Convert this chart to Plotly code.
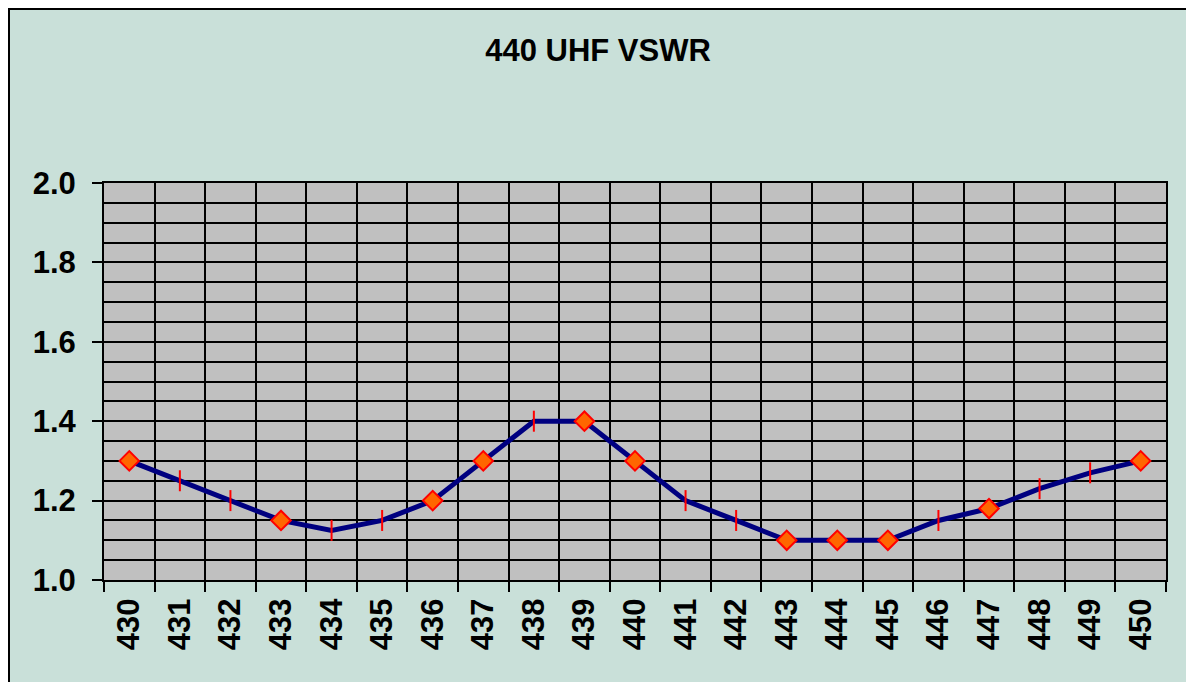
import plotly.graph_objects as go

freqs = ["430", "431", "432", "433", "434", "435", "436", "437", "438", "439", "440",
         "441", "442", "443", "444", "445", "446", "447", "448", "449", "450"]
vswr = [1.30, 1.25, 1.20, 1.15, 1.125, 1.15, 1.20, 1.30, 1.40, 1.40, 1.30,
        1.20, 1.15, 1.10, 1.10, 1.10, 1.15, 1.18, 1.23, 1.27, 1.30]
marker_kind = ["diamond", "line-ns", "line-ns", "diamond", "line-ns", "line-ns", "diamond",
               "diamond", "line-ns", "diamond", "diamond", "line-ns", "line-ns", "diamond",
               "diamond", "diamond", "line-ns", "diamond", "line-ns", "line-ns", "diamond"]
title_text = "440 UHF VSWR"

OFF = 8  # page body margin
W, H = 1194 - OFF, 682 - OFF
L, R, T, B = 104 - OFF, 1194 - 1166, 183 - OFF, 682 - 580
pw, ph = W - L - R, H - T - B

def px_x(x):
    return (x - OFF - L) / pw

def px_y(y):
    return (H - B - (y - OFF)) / ph

fig = go.Figure()
fig.add_trace(go.Scatter(
    x=freqs, y=vswr, mode="lines+markers",
    line=dict(color="#000080", width=5),
    marker=dict(symbol=marker_kind, size=15, color="#FF6600",
                line=dict(color="#FF0000", width=2)),
    showlegend=False, hoverinfo="x+y",
))

font = "Liberation Sans, Arial, sans-serif"
fig.update_layout(
    width=W, height=H,
    margin=dict(l=L, r=R, t=T, b=B, pad=0),
    paper_bgcolor="#C9E0D9",
    plot_bgcolor="#C0C0C0",
    font=dict(family=font, color="black", size=31),
    title=dict(text="<b>%s</b>" % title_text, x=px_x(598), xref="paper", xanchor="center",
               y=1 - (50 - OFF) / H, yref="container", yanchor="middle",
               font=dict(size=31, family=font, color="black")),
    xaxis=dict(type="category", tickson="boundaries", ticks="outside", ticklen=10,
               range=[-0.5, len(freqs) - 0.5],
               tickwidth=2, tickcolor="black", tickangle=-90,
               showgrid=True, gridcolor="black", gridwidth=1.5,
               showline=True, linecolor="black", linewidth=2, mirror=True,
               tickfont=dict(size=31, family=font), ticklabelstandoff=4,
               tickprefix="<b>", ticksuffix="</b>", zeroline=False),
    yaxis=dict(range=[1.0, 2.0], dtick=0.2, tick0=1.0, tickformat=".1f",
               ticks="outside", ticklen=10, tickwidth=2, tickcolor="black",
               showgrid=True, gridcolor="black", gridwidth=1.5,
               minor=dict(dtick=0.05, showgrid=True, gridcolor="black", gridwidth=1.5,
                          ticks=""),
               showline=True, linecolor="black", linewidth=2, mirror=True,
               tickfont=dict(size=31, family=font), ticklabelstandoff=10,
               tickprefix="<b>", ticksuffix="</b>", zeroline=False),
)

fig.add_shape(type="rect", xref="paper", yref="paper",
              x0=px_x(8.5), x1=px_x(1187.5), y0=px_y(700), y1=px_y(8.5),
              line=dict(color="black", width=3), fillcolor="rgba(0,0,0,0)", layer="above")

fig.write_html("out.html")
